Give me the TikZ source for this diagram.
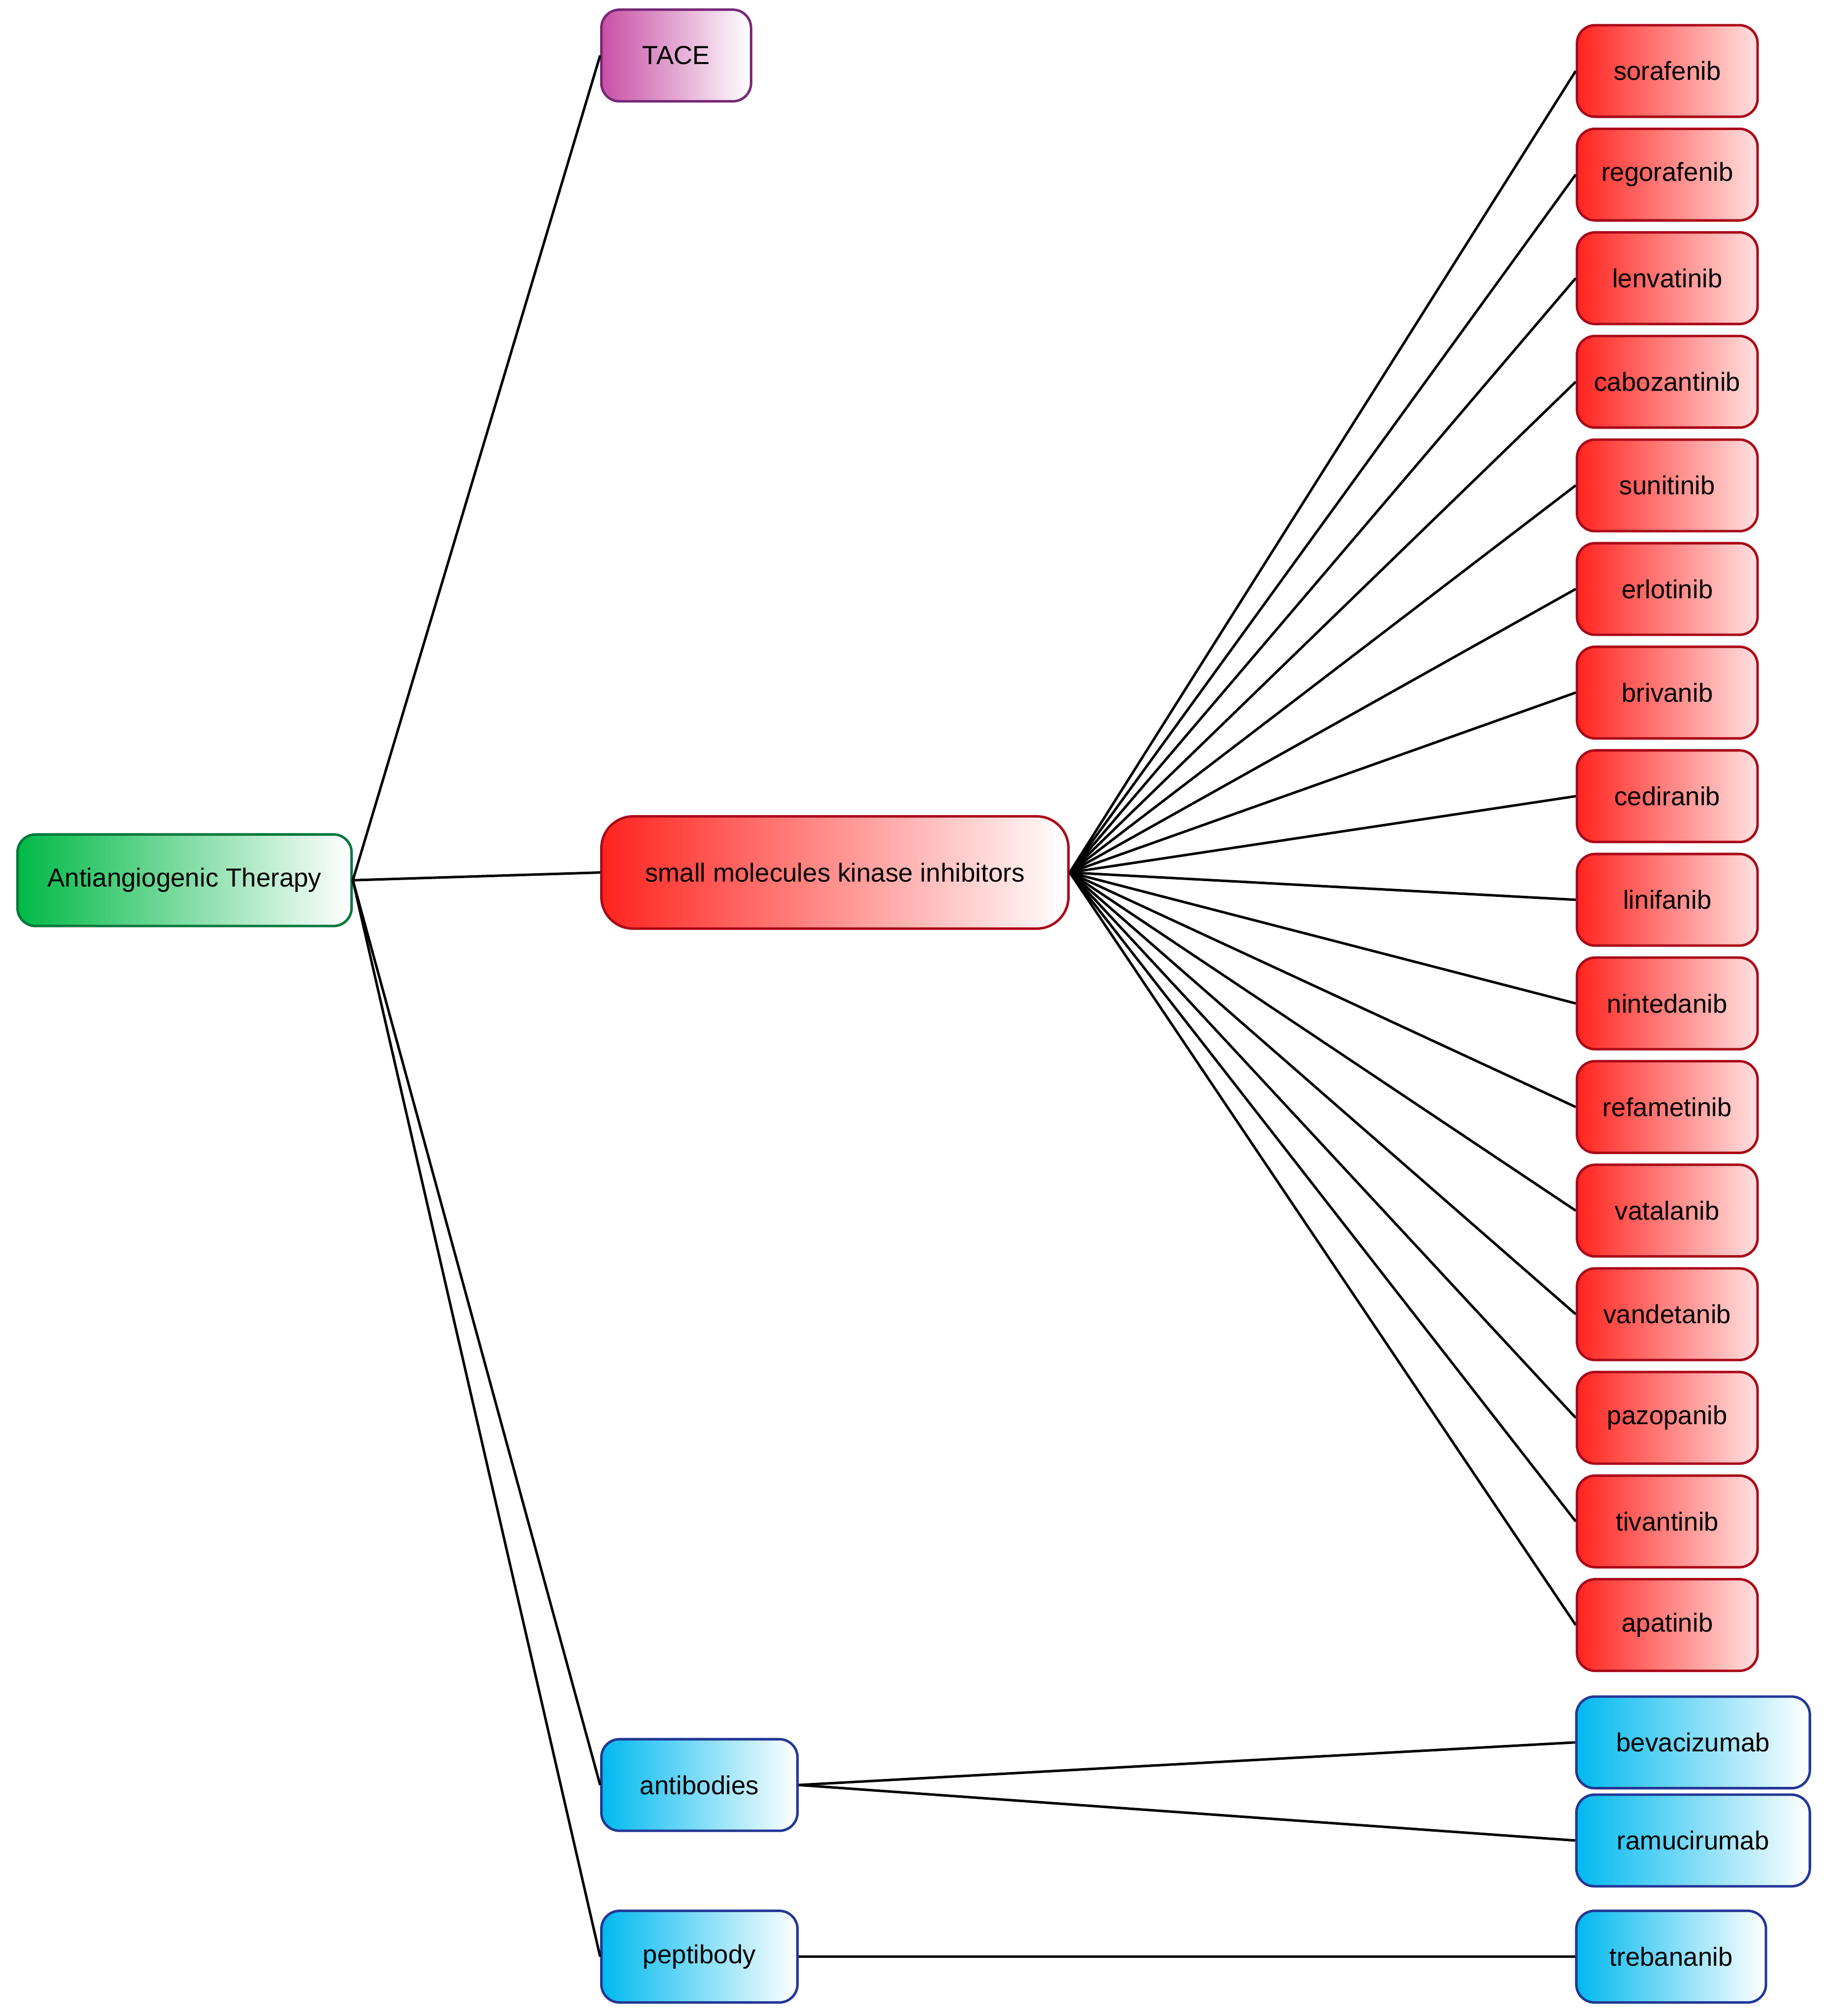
\documentclass[tikz,border=0pt]{standalone}
\usepackage{fontspec}
\setmainfont{Liberation Sans}
\usetikzlibrary{positioning}
\definecolor{rootgreen}{RGB}{0,185,70}
\definecolor{rootline}{RGB}{0,120,60}
\definecolor{taceviolet}{RGB}{200,80,165}
\definecolor{taceline}{RGB}{120,40,120}
\definecolor{kinred}{RGB}{255,35,30}
\definecolor{kinline}{RGB}{170,10,25}
\definecolor{abcyan}{RGB}{0,185,240}
\definecolor{abline}{RGB}{35,55,150}
\begin{document}
\begin{tikzpicture}[x=0.02cm, y=-0.02cm,
    box/.style={rectangle, rounded corners=8pt, line width=1.1pt, minimum height=1.42cm,
      font=\fontsize{11.5}{14}\selectfont, text=black, inner sep=0pt},
    root/.style={box, draw=rootline, left color=rootgreen, right color=white, minimum width=5.18cm},
    tace/.style={box, draw=taceline, left color=taceviolet, right color=white, minimum width=2.32cm},
    kinase/.style={box, draw=kinline, left color=kinred, right color=white, rounded corners=14pt},
    drug/.style={box, draw=kinline, left color=kinred, right color=red!12, minimum width=2.8cm},
    bio/.style={box, draw=abline, left color=abcyan, middle color=abcyan!75, right color=white},
    link/.style={line width=1.1pt, black}]
  \useasboundingbox (0,0) rectangle (1414,1562);

  \node (therapy) [root] at (143,682) {Antiangiogenic Therapy};
  \node (tace) [tace] at (524,43) {TACE};
  \node (kinase) [kinase, minimum width=7.24cm, minimum height=1.74cm] at (647,676) {small molecules kinase inhibitors};
  \node (antibodies) [bio, minimum width=3.04cm] at (542,1383) {antibodies};
  \node (peptibody) [bio, minimum width=3.04cm] at (542,1516) {peptibody};

  \foreach \drug [count=\i from 0] in {sorafenib, regorafenib, lenvatinib, cabozantinib, sunitinib,
      erlotinib, brivanib, cediranib, linifanib, nintedanib, refametinib, vatalanib,
      vandetanib, pazopanib, tivantinib, apatinib} {
    \node (\drug) [drug] at (1292,55+80.27*\i) {\drug};
    \draw [link] (kinase.east) -- (\drug.west);
  }

  \node (bevacizumab) [bio, minimum width=3.62cm] at (1312,1350) {bevacizumab};
  \node (ramucirumab) [bio, minimum width=3.62cm] at (1312,1426) {ramucirumab};
  \node (trebananib) [bio, minimum width=2.94cm] at (1295,1516) {trebananib};

  \draw [link] (therapy.east) -- (tace.west);
  \draw [link] (therapy.east) -- (kinase.west);
  \draw [link] (therapy.east) -- (antibodies.west);
  \draw [link] (therapy.east) -- (peptibody.west);
  \draw [link] (antibodies.east) -- (bevacizumab.west);
  \draw [link] (antibodies.east) -- (ramucirumab.west);
  \draw [link] (peptibody.east) -- (trebananib.west);
\end{tikzpicture}
\end{document}
